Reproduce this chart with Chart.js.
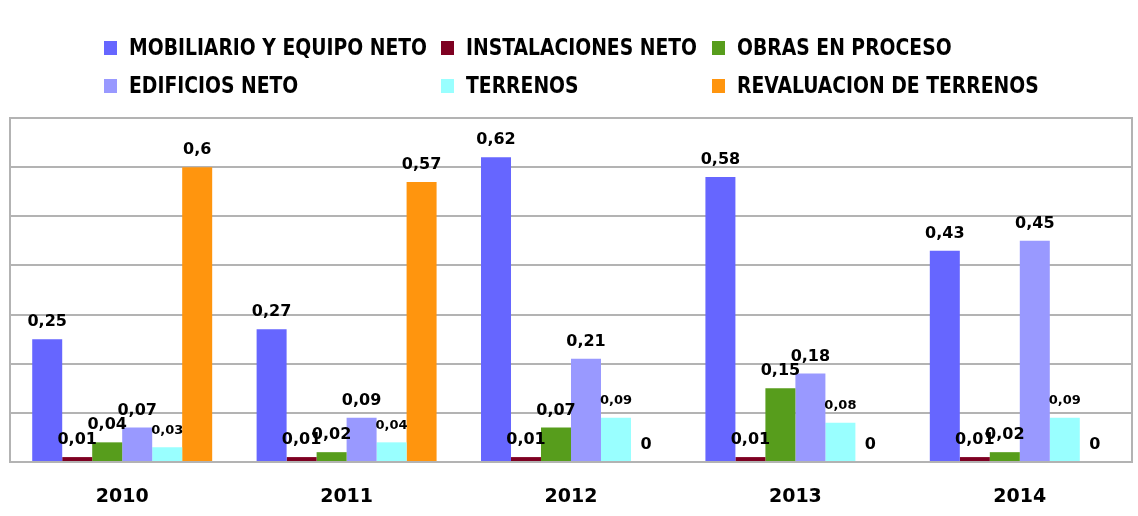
<!DOCTYPE html>
<html>
<head>
<meta charset="utf-8">
<script src="https://cdn.jsdelivr.net/npm/chart.js@4.4.1/dist/chart.umd.min.js"></script>
<style>
  html, body { margin: 0; padding: 0; background: #fff; }
  #wrap { width: 1138px; height: 516px; }
</style>
</head>
<body>
<div id="wrap"><canvas id="ch1" width="1138" height="516"></canvas></div>
<script>
// años
var anos = ["2010", "2011", "2012", "2013", "2014"];

// series
var mobiliario = [0.25, 0.27, 0.62, 0.58, 0.43];
var instalaciones = [0.01, 0.01, 0.01, 0.01, 0.01];
var obras = [0.04, 0.02, 0.07, 0.15, 0.02];
var edificios = [0.07, 0.09, 0.21, 0.18, 0.45];
var terrenos = [0.03, 0.04, 0.09, 0.08, 0.09];
var revaluacion = [0.6, 0.57, 0, 0, 0];

var nombres = ["MOBILIARIO Y EQUIPO NETO", "INSTALACIONES NETO", "OBRAS EN PROCESO",
               "EDIFICIOS NETO", "TERRENOS", "REVALUACION DE TERRENOS"];
var colores = ["#6666ff", "#7e0021", "#579d1c", "#9999ff", "#99ffff", "#ff950e"];
var series = [mobiliario, instalaciones, obras, edificios, terrenos, revaluacion];

// legend in a 3x2 grid
var legendPlugin = {
    id: "gridLegend",
    afterDraw: function(chart){
        var ctx = chart.ctx;
        var colX = [104, 441, 712];
        var rowY = [48, 86];
        ctx.save();
        ctx.font = "bold 23px 'Liberation Sans Narrow', 'DejaVu Sans Condensed', sans-serif";
        ctx.textBaseline = "middle";
        ctx.textAlign = "left";
        // squeeze so the first label is ~298px wide like the original
        var sx = 298 / ctx.measureText(nombres[0]).width;
        chart.data.datasets.forEach(function(ds, i){
            var x = colX[i % 3];
            var y = rowY[Math.floor(i / 3)];
            ctx.fillStyle = ds.backgroundColor;
            ctx.fillRect(x, y - 7, 13, 14);
            ctx.fillStyle = "#000";
            ctx.save();
            ctx.translate(x + 25, y + 1);
            ctx.scale(sx, 1);
            ctx.fillText(ds.label, 0, 0);
            ctx.restore();
        });
        ctx.restore();
    }
};

// value labels + frame
var labelsPlugin = {
    id: "valueLabels",
    afterDatasetsDraw: function(chart){
        var ctx = chart.ctx;
        var a = chart.chartArea;
        ctx.save();
        ctx.strokeStyle = "#b3b3b3";
        ctx.lineWidth = 2;
        ctx.strokeRect(a.left, a.top, a.right - a.left, a.bottom - a.top);
        ctx.fillStyle = "#000";
        ctx.textAlign = "center";
        ctx.textBaseline = "middle";
        chart.data.datasets.forEach(function(ds, i){
            var meta = chart.getDatasetMeta(i);
            ctx.font = (i == 4 ? "bold 13px" : "bold 16px") + " 'DejaVu Sans', sans-serif";
            meta.data.forEach(function(bar, j){
                var txt = String(ds.data[j]).replace(".", ",");
                ctx.fillText(txt, bar.x, bar.y - 17);
            });
        });
        ctx.restore();
    }
};

var ctx = document.getElementById("ch1");

var myChart = new Chart(ctx, {
    type: "bar",
    data: {
        labels: anos,
        datasets: series.map(function(d, i){
            return {
                label: nombres[i],
                data: d,
                backgroundColor: colores[i],
                borderWidth: 0,
                categoryPercentage: 0.802,
                barPercentage: 1.0
            };
        })
    },
    options: {
        responsive: false,
        animation: false,
        layout: { padding: { left: 10, right: 6, top: 118, bottom: 0 } },
        plugins: {
            legend: { display: false },
            tooltip: { enabled: false }
        },
        scales: {
            x: {
                grid: { display: false, drawTicks: false },
                border: { display: false },
                ticks: {
                    color: "#000",
                    padding: 24,
                    font: { family: "'DejaVu Sans', sans-serif", weight: "bold", size: 19 }
                },
                afterFit: function(s){ s.height = 54; }
            },
            y: {
                min: 0,
                max: 0.7,
                ticks: { display: false, stepSize: 0.1 },
                grid: { color: "#b3b3b3", lineWidth: 2, drawTicks: false },
                border: { display: false },
                afterFit: function(s){ s.width = 0; }
            }
        }
    },
    plugins: [legendPlugin, labelsPlugin]
});
</script>
</body>
</html>
